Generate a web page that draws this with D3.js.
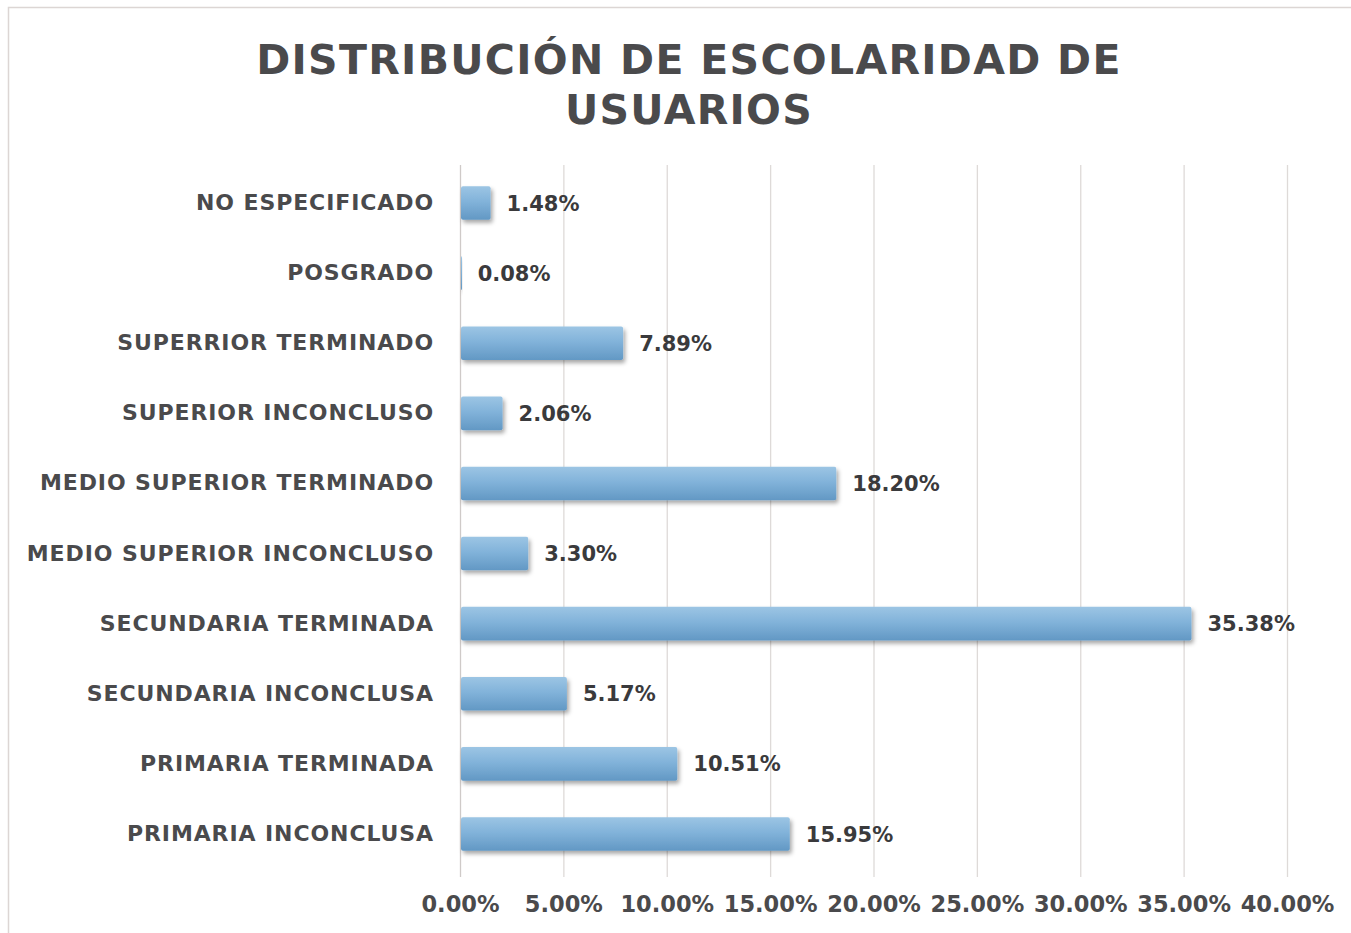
<!DOCTYPE html>
<html>
<head>
<meta charset="utf-8">
<script src="https://cdn.jsdelivr.net/npm/d3@7"></script>
<style>
  body { margin: 0; background: #fff; }
  svg text { font-family: "DejaVu Sans", sans-serif; }
</style>
</head>
<body>
<svg id="chart" width="1351" height="933"></svg>
<script>
// data, top to bottom as in the picture
const categories = [
  "NO ESPECIFICADO",
  "POSGRADO",
  "SUPERRIOR TERMINADO",
  "SUPERIOR INCONCLUSO",
  "MEDIO SUPERIOR TERMINADO",
  "MEDIO SUPERIOR INCONCLUSO",
  "SECUNDARIA TERMINADA",
  "SECUNDARIA INCONCLUSA",
  "PRIMARIA TERMINADA",
  "PRIMARIA INCONCLUSA"
];
const values = [1.48, 0.08, 7.89, 2.06, 18.20, 3.30, 35.38, 5.17, 10.51, 15.95];
const xTicks = [0, 5, 10, 15, 20, 25, 30, 35, 40];
const titleLines = ["DISTRIBUCIÓN DE ESCOLARIDAD DE", "USUARIOS"];

const svg = d3.select("#chart");
const margin = { top: 168, left: 460, right: 64, bottom: 62 };
const W = 1351, H = 933;
const width = W - margin.left - margin.right;
const height = H - margin.top - margin.bottom;

// frame
svg.append("rect")
  .attr("x", 8.5).attr("y", 7.5)
  .attr("width", W).attr("height", H)
  .attr("fill", "none").attr("stroke", "#dcd6d4").attr("stroke-width", 1.5);

// title
svg.append("g").selectAll("text")
  .data(titleLines)
  .join("text")
  .attr("x", 689)
  .attr("y", (d, i) => 74 + i * 50)
  .attr("text-anchor", "middle")
  .attr("font-size", 41)
  .attr("font-weight", 700)
  .attr("letter-spacing", 1.3)
  .attr("fill", "#4a4a4c")
  .text(d => d);

const defs = svg.append("defs");
const grad = defs.append("linearGradient")
  .attr("id", "barGrad").attr("x1", 0).attr("y1", 0).attr("x2", 0).attr("y2", 1);
grad.append("stop").attr("offset", "0%").attr("stop-color", "#9cc5e4");
grad.append("stop").attr("offset", "45%").attr("stop-color", "#82b3da");
grad.append("stop").attr("offset", "100%").attr("stop-color", "#6298c4");

const shadow = defs.append("filter").attr("id", "shadow")
  .attr("x", "-10%").attr("y", "-20%").attr("width", "130%").attr("height", "160%");
shadow.append("feDropShadow")
  .attr("dx", 2).attr("dy", 3).attr("stdDeviation", 2)
  .attr("flood-color", "#000").attr("flood-opacity", 0.35);

const g = svg.append("g").attr("transform", `translate(${margin.left},${margin.top})`);

const x = d3.scaleLinear().domain([0, 40]).range([0, width]);
const y = d3.scaleBand().domain(categories).range([0, height - 2]).paddingInner(0.52).paddingOuter(0.26);

// grid
g.append("g").selectAll("line")
  .data(xTicks)
  .join("line")
  .attr("x1", d => x(d) + 0.5).attr("x2", d => x(d) + 0.5)
  .attr("y1", -3).attr("y2", height + 6)
  .attr("stroke", d => d === 0 ? "#cfcac8" : "#dedad8")
  .attr("stroke-width", 1.3);

// x axis labels
const xAxis = d3.axisBottom(x)
  .tickValues(xTicks)
  .tickSize(0)
  .tickPadding(19)
  .tickFormat(d => d3.format(".2f")(d) + "%");
g.append("g")
  .attr("transform", `translate(0,${height + 6})`)
  .call(xAxis)
  .call(s => s.select(".domain").remove())
  .selectAll("text")
  .attr("font-size", 22.5)
  .attr("font-weight", 700)
  .attr("fill", "#4a4a4c")
  .style("font-family", "'DejaVu Sans', sans-serif");

// y axis labels
const yAxis = d3.axisLeft(y).tickSize(0).tickPadding(26);
g.append("g")
  .call(yAxis)
  .call(s => s.select(".domain").remove())
  .selectAll("text")
  .attr("font-size", 22)
  .attr("font-weight", 700)
  .attr("letter-spacing", 0.9)
  .attr("fill", "#4a4a4c")
  .style("font-family", "'DejaVu Sans', sans-serif");

// bars
g.append("g").selectAll("rect")
  .data(values)
  .join("rect")
  .attr("x", 1)
  .attr("y", (d, i) => y(categories[i]))
  .attr("width", d => Math.max(x(d) - 1, 1))
  .attr("height", y.bandwidth())
  .attr("rx", 2)
  .attr("fill", "url(#barGrad)")
  .attr("filter", "url(#shadow)");

// value labels
g.append("g").selectAll("text")
  .data(values)
  .join("text")
  .attr("x", d => x(d) + 16)
  .attr("y", (d, i) => y(categories[i]) + y.bandwidth() / 2)
  .attr("dy", "0.36em")
  .attr("font-size", 21)
  .attr("font-weight", 700)
  .attr("fill", "#3a3a3c")
  .text(d => d3.format(".2f")(d) + "%");
</script>
</body>
</html>
